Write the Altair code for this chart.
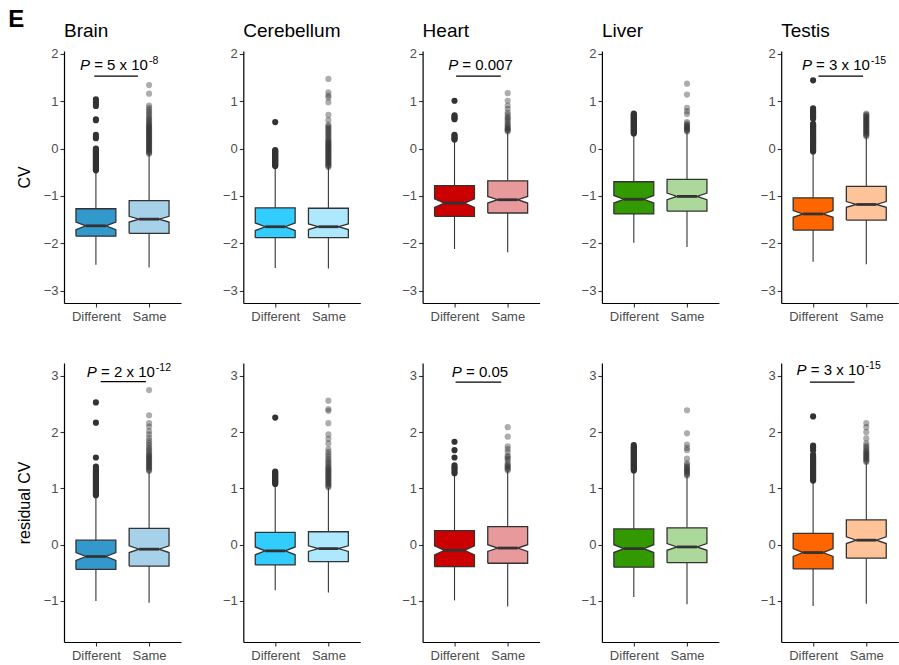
import altair as alt
import pandas as pd

tissues = ["Brain", "Cerebellum", "Heart", "Liver", "Testis"]
groups = ["Different", "Same"]
metric_titles = ["CV", "residual CV"]
dark_fill = ["#3399CC", "#33CCFF", "#CC0000", "#339900", "#FF6600"]
light_fill = ["#A6D1E8", "#AEE8FF", "#E8999B", "#ADD89B", "#FFC39A"]

# ---- CV (top row): values per tissue as [Different, Same] ----
cv_whisker_low = {"Brain": [-2.45, -2.51], "Cerebellum": [-2.52, -2.53], "Heart": [-2.12, -2.19],
                  "Liver": [-1.99, -2.08], "Testis": [-2.39, -2.44]}
cv_q1 = {"Brain": [-1.85, -1.79], "Cerebellum": [-1.88, -1.88], "Heart": [-1.43, -1.36],
         "Liver": [-1.38, -1.32], "Testis": [-1.72, -1.51]}
cv_median = {"Brain": [-1.63, -1.49], "Cerebellum": [-1.65, -1.65], "Heart": [-1.15, -1.08],
             "Liver": [-1.07, -1.01], "Testis": [-1.38, -1.18]}
cv_q3 = {"Brain": [-1.27, -1.10], "Cerebellum": [-1.25, -1.26], "Heart": [-0.78, -0.68],
         "Liver": [-0.70, -0.65], "Testis": [-1.04, -0.80]}
cv_whisker_high = {"Brain": [-0.46, -0.11], "Cerebellum": [-0.37, -0.39], "Heart": [0.15, 0.35],
                   "Liver": [0.31, 0.35], "Testis": [-0.07, 0.25]}
cv_notch = {"Brain": [0.08, 0.06], "Cerebellum": [0.08, 0.06], "Heart": [0.09, 0.07],
            "Liver": [0.08, 0.07], "Testis": [0.07, 0.06]}
cv_outliers = {
    "Brain": [
        [-0.46, -0.44, -0.42, -0.40, -0.38, -0.36, -0.34, -0.32, -0.30, -0.28, -0.26, -0.24, -0.22,
         -0.20, -0.18, -0.16, -0.14, -0.12, -0.10, -0.08, -0.06, -0.04, -0.02, 0.0, 0.22, 0.25,
         0.29, 0.60, 0.62, 0.90, 0.94, 0.99, 1.04],
        [-0.11, -0.09, -0.07, -0.05, -0.03, -0.01, 0.01, 0.03, 0.05, 0.07, 0.09, 0.11, 0.13, 0.15,
         0.17, 0.19, 0.21, 0.23, 0.25, 0.27, 0.29, 0.31, 0.33, 0.35, 0.37, 0.39, 0.41, 0.43, 0.45,
         0.47, 0.49, 0.51, 0.54, 0.57, 0.60, 0.63, 0.66, 0.70, 0.74, 0.78, 0.82, 0.86, 0.91, 1.16,
         1.34]],
    "Cerebellum": [
        [-0.37, -0.35, -0.33, -0.31, -0.29, -0.27, -0.25, -0.23, -0.21, -0.19, -0.17, -0.15, -0.13,
         -0.11, -0.09, -0.07, -0.05, -0.03, 0.56],
        [-0.39, -0.37, -0.35, -0.33, -0.31, -0.29, -0.27, -0.25, -0.23, -0.21, -0.19, -0.17, -0.15,
         -0.13, -0.11, -0.09, -0.07, -0.05, -0.03, -0.01, 0.01, 0.03, 0.05, 0.07, 0.09, 0.11, 0.13,
         0.15, 0.17, 0.20, 0.23, 0.26, 0.29, 0.32, 0.35, 0.38, 0.41, 0.44, 0.47, 0.50, 0.60, 0.71,
         0.98, 1.08, 1.12, 1.19, 1.47]],
    "Heart": [
        [0.19, 0.21, 0.24, 0.27, 0.29, 0.62, 0.64, 0.67, 0.70, 1.01],
        [0.36, 0.38, 0.40, 0.42, 0.44, 0.47, 0.50, 0.53, 0.57, 0.61, 0.64, 0.67, 0.72, 0.76, 0.84,
         0.91, 1.01, 1.17]],
    "Liver": [
        [0.32, 0.34, 0.36, 0.38, 0.40, 0.42, 0.44, 0.46, 0.48, 0.50, 0.52, 0.54, 0.56, 0.58, 0.60,
         0.62, 0.64, 0.66, 0.68, 0.70, 0.72, 0.74],
        [0.36, 0.38, 0.40, 0.42, 0.44, 0.46, 0.48, 0.50, 0.53, 0.56, 0.73, 0.79, 0.86, 1.14, 1.37]],
    "Testis": [
        [-0.06, -0.04, -0.02, 0.0, 0.02, 0.04, 0.06, 0.08, 0.10, 0.12, 0.14, 0.16, 0.18, 0.20, 0.22,
         0.24, 0.26, 0.28, 0.30, 0.32, 0.34, 0.36, 0.38, 0.40, 0.42, 0.44, 0.46, 0.48, 0.50, 0.52,
         0.63, 0.66, 0.69, 0.72, 0.75, 0.78, 0.81, 0.85, 1.44],
        [0.26, 0.28, 0.30, 0.32, 0.34, 0.36, 0.38, 0.40, 0.42, 0.44, 0.46, 0.48, 0.50, 0.52, 0.54,
         0.56, 0.58, 0.60, 0.62, 0.64, 0.66, 0.68, 0.70, 0.72, 0.74]],
}

# ---- residual CV (bottom row) ----
res_whisker_low = {"Brain": [-1.00, -1.03], "Cerebellum": [-0.81, -0.85], "Heart": [-0.99, -1.10],
                   "Liver": [-0.93, -1.06], "Testis": [-1.09, -1.05]}
res_q1 = {"Brain": [-0.44, -0.38], "Cerebellum": [-0.36, -0.30], "Heart": [-0.39, -0.33],
          "Liver": [-0.40, -0.32], "Testis": [-0.43, -0.24]}
res_median = {"Brain": [-0.21, -0.08], "Cerebellum": [-0.11, -0.07], "Heart": [-0.10, -0.06],
              "Liver": [-0.07, -0.04], "Testis": [-0.14, 0.08]}
res_q3 = {"Brain": [0.08, 0.29], "Cerebellum": [0.22, 0.23], "Heart": [0.25, 0.32],
          "Liver": [0.28, 0.30], "Testis": [0.20, 0.44]}
res_whisker_high = {"Brain": [0.87, 1.30], "Cerebellum": [1.07, 1.01], "Heart": [1.22, 1.31],
                    "Liver": [1.31, 1.22], "Testis": [1.13, 1.46]}
res_notch = {"Brain": [0.07, 0.06], "Cerebellum": [0.07, 0.05], "Heart": [0.08, 0.06],
             "Liver": [0.07, 0.06], "Testis": [0.07, 0.06]}
res_outliers = {
    "Brain": [
        [0.88, 0.90, 0.92, 0.94, 0.96, 0.98, 1.00, 1.02, 1.04, 1.06, 1.08, 1.10, 1.12, 1.14, 1.16,
         1.18, 1.20, 1.22, 1.24, 1.26, 1.28, 1.30, 1.33, 1.36, 1.39, 1.55, 2.17, 2.53],
        [1.31, 1.33, 1.35, 1.37, 1.39, 1.41, 1.43, 1.45, 1.47, 1.49, 1.51, 1.53, 1.55, 1.57, 1.59,
         1.61, 1.64, 1.67, 1.70, 1.73, 1.77, 1.81, 1.85, 1.90, 1.96, 2.02, 2.10, 2.16, 2.30, 2.75]],
    "Cerebellum": [
        [1.08, 1.10, 1.12, 1.14, 1.16, 1.18, 1.20, 1.22, 1.24, 1.26, 1.28, 1.30, 2.26],
        [1.02, 1.04, 1.06, 1.08, 1.10, 1.12, 1.14, 1.16, 1.18, 1.20, 1.22, 1.24, 1.26, 1.28, 1.30,
         1.32, 1.34, 1.36, 1.38, 1.41, 1.44, 1.47, 1.50, 1.53, 1.57, 1.61, 1.65, 1.70, 1.80, 1.88,
         1.96, 2.16, 2.38, 2.41, 2.56]],
    "Heart": [
        [1.27, 1.30, 1.34, 1.37, 1.41, 1.55, 1.68, 1.83],
        [1.32, 1.34, 1.36, 1.38, 1.40, 1.42, 1.45, 1.50, 1.53, 1.56, 1.58, 1.65, 1.70, 1.75, 1.92,
         2.09]],
    "Liver": [
        [1.32, 1.34, 1.36, 1.38, 1.40, 1.42, 1.44, 1.46, 1.48, 1.50, 1.52, 1.54, 1.56, 1.58, 1.60,
         1.62, 1.64, 1.66, 1.68, 1.70, 1.72, 1.74, 1.77],
        [1.23, 1.25, 1.27, 1.29, 1.31, 1.33, 1.35, 1.37, 1.39, 1.42, 1.45, 1.53, 1.68, 1.72, 1.78,
         1.98, 2.39]],
    "Testis": [
        [1.14, 1.16, 1.18, 1.20, 1.22, 1.24, 1.26, 1.28, 1.30, 1.32, 1.34, 1.36, 1.38, 1.40, 1.42,
         1.44, 1.46, 1.48, 1.50, 1.52, 1.54, 1.57, 1.60, 1.68, 1.73, 1.76, 2.28],
        [1.47, 1.49, 1.51, 1.53, 1.55, 1.57, 1.59, 1.61, 1.63, 1.65, 1.67, 1.70, 1.73, 1.76, 1.80,
         1.89, 2.00, 2.09, 2.16]],
}

# ---- P-value annotations: (value text, exponent, text x, text y, line x1, line x2, line y) ----
cv_pvalues = {"Brain": ("5 x 10", "-8", 0.70, 1.65, 0.97, 1.79, 1.53),
              "Heart": ("0.007", "", 0.88, 1.65, 1.03, 1.87, 1.53),
              "Testis": ("3 x 10", "-15", 0.79, 1.65, 1.10, 1.94, 1.53)}
res_pvalues = {"Brain": ("2 x 10", "-12", 0.83, 2.99, 1.09, 1.94, 2.90),
               "Heart": ("0.05", "", 0.95, 2.99, 1.02, 1.88, 2.89),
               "Testis": ("3 x 10", "-15", 0.69, 3.01, 0.94, 1.78, 2.89)}

STATS = [
    dict(low=cv_whisker_low, q1=cv_q1, med=cv_median, q3=cv_q3, high=cv_whisker_high,
         notch=cv_notch, out=cv_outliers, pv=cv_pvalues),
    dict(low=res_whisker_low, q1=res_q1, med=res_median, q3=res_q3, high=res_whisker_high,
         notch=res_notch, out=res_outliers, pv=res_pvalues),
]
y_domains = [[-3.26, 2.06], [-1.73, 3.23]]
y_ticks = [[-3, -2, -1, 0, 1, 2], [-1, 0, 1, 2, 3]]
panel_heights = [252, 279]

PANEL_W = 117
BOX_HW = 0.375
NOTCH_INSET = 0.5
FONT = "Liberation Sans"
LINE = "#333333"
P_SIZE = 15
SUP_SIZE = 10.5

CHAR_W = {" ": 0.278, "=": 0.584, "x": 0.5, ".": 0.278, "-": 0.333, "P": 0.667}


def text_width(s, size):
    return sum(CHAR_W.get(ch, 0.556) for ch in s) * size


def panel(m, t):
    S = STATS[m]
    tissue = tissues[t]
    fills = [dark_fill[t], light_fill[t]]
    med_rows, poly_rows, whisk_rows, out_rows = [], [], [], []
    for g, grp in enumerate(groups):
        c = g + 1
        lo, q1, med, q3, hi, nt = (S[k][tissue][g] for k in ["low", "q1", "med", "q3", "high", "notch"])
        med_rows.append(dict(group=grp, xl=c - BOX_HW * NOTCH_INSET, xr=c + BOX_HW * NOTCH_INSET, med=med))
        whisk_rows += [dict(group=grp, x=c, y=q3, y2=hi), dict(group=grp, x=c, y=lo, y2=q1)]
        verts = [(c - BOX_HW, q1), (c + BOX_HW, q1), (c + BOX_HW, med - nt),
                 (c + BOX_HW * NOTCH_INSET, med), (c + BOX_HW, med + nt), (c + BOX_HW, q3),
                 (c - BOX_HW, q3), (c - BOX_HW, med + nt), (c - BOX_HW * NOTCH_INSET, med),
                 (c - BOX_HW, med - nt), (c - BOX_HW, q1)]
        for k, (vx, vy) in enumerate(verts):
            poly_rows.append(dict(group=grp, k=k, x=vx, y=vy, fillcolor=fills[g]))
        for v in S["out"][tissue][g]:
            out_rows.append(dict(group=grp, x=c, y=v))

    xscale = alt.Scale(domain=[0.4, 2.6], nice=False, zero=False)
    yscale = alt.Scale(domain=y_domains[m], nice=False, zero=False)
    xaxis = alt.Axis(values=[1, 2], title=None, labelOverlap=False, labelFlush=False,
                     labelExpr=f"datum.value == 1 ? '{groups[0]}' : '{groups[1]}'", labelPadding=3)
    yaxis = alt.Axis(values=y_ticks[m], title=metric_titles[m] if t == 0 else None,
                     labelFlush=False, titlePadding=11)

    def X(f):
        return alt.X(f, type="quantitative", scale=xscale, axis=xaxis)

    def Y(f):
        return alt.Y(f, type="quantitative", scale=yscale, axis=yaxis)

    whisk = alt.Chart(pd.DataFrame(whisk_rows)).mark_rule(color=LINE, strokeWidth=1.1).encode(
        x=X("x"), y=Y("y"), y2="y2")
    box = alt.Chart(pd.DataFrame(poly_rows)).mark_line(
        stroke=LINE, strokeWidth=1.3, strokeJoin="miter", interpolate="linear").encode(
        x=X("x"), y=Y("y"), order="k:Q", detail="group:N",
        fill=alt.Fill("fillcolor:N", scale=None, legend=None))
    medl = alt.Chart(pd.DataFrame(med_rows)).mark_rule(color=LINE, strokeWidth=2.8).encode(
        x=X("xl"), x2="xr", y=Y("med"))
    pts = alt.Chart(pd.DataFrame(out_rows)).mark_circle(size=38, color=LINE).encode(
        x=X("x"), y=Y("y"),
        opacity=alt.Opacity("group:N", scale=alt.Scale(domain=groups, range=[1.0, 0.4]), legend=None))
    layers = [whisk, box, medl, pts]

    if tissue in S["pv"]:
        val, exp, xt, yt, x1, x2, yl = S["pv"][tissue]
        main = "= " + val
        ann = pd.DataFrame([dict(xt=xt, yt=yt, x1=x1, x2=x2, yl=yl, main=main, exp=exp)])
        w_p = text_width("P ", P_SIZE)
        w_main = text_width(main, P_SIZE)
        layers.append(alt.Chart(ann).mark_rule(color="black", strokeWidth=1.3).encode(
            x=X("x1"), x2="x2", y=Y("yl")))
        layers.append(alt.Chart(ann).mark_text(
            text="P", font=FONT, fontSize=P_SIZE, fontStyle="italic", align="left",
            baseline="alphabetic", color="black").encode(x=X("xt"), y=Y("yt")))
        layers.append(alt.Chart(ann).mark_text(
            font=FONT, fontSize=P_SIZE, align="left", baseline="alphabetic", color="black",
            dx=w_p).encode(x=X("xt"), y=Y("yt"), text="main:N"))
        if exp:
            layers.append(alt.Chart(ann).mark_text(
                font=FONT, fontSize=SUP_SIZE, align="left", baseline="alphabetic", color="black",
                dx=w_p + w_main + 1, dy=-6).encode(x=X("xt"), y=Y("yt"), text="exp:N"))

    ch = alt.layer(*layers).properties(width=PANEL_W, height=panel_heights[m])
    if m == 0:
        ch = ch.properties(title=alt.TitleParams(
            tissue, anchor="start", frame="group", fontSize=19, font=FONT,
            fontWeight="normal", color="black", offset=7))
    return ch


panels = [panel(m, t) for m in range(2) for t in range(len(tissues))]

chart = alt.concat(*panels, columns=len(tissues), spacing={"row": 60, "column": 62.3},
                   bounds="flush").properties(
    title=alt.TitleParams("E", anchor="start", fontSize=24, fontWeight="bold", font=FONT,
                          color="black", dx=-8, offset=-10.5),
    padding={"left": 8, "top": 8, "right": 0, "bottom": 0},
    background="white",
).configure_view(stroke=None).configure_axis(
    grid=False, domainColor="black", domainWidth=1.2, tickColor=LINE, tickWidth=1.1, tickSize=4,
    labelColor="#4D4D4D", labelFont=FONT, labelFontSize=13, labelPadding=2,
    titleFont=FONT, titleFontSize=16, titleColor="black", titleFontWeight="normal",
)

chart.save("out.html", embed_options={"renderer": "svg", "actions": False})
